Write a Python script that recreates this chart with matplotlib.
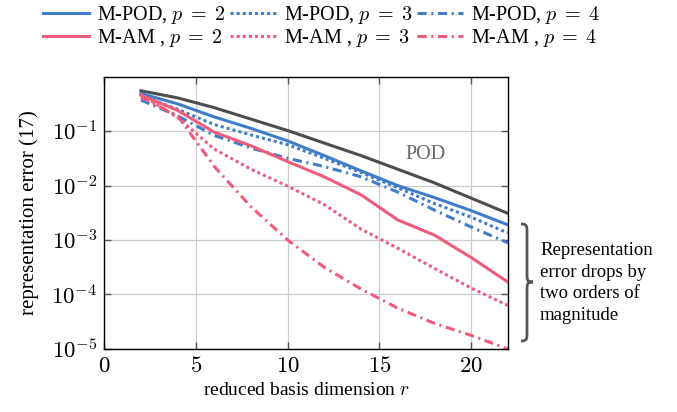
import matplotlib
matplotlib.use("Agg")
import matplotlib.pyplot as plt
from matplotlib.path import Path
from matplotlib.patches import PathPatch

plt.rcParams['font.family'] = ['Liberation Serif', 'DejaVu Serif']
plt.rcParams['mathtext.fontset'] = 'cm'

# reduced basis dimension
r = [2, 4, 6, 8, 10, 12, 14, 16, 18, 20, 22]

# log10 of representation error
pod      = [-0.26, -0.39, -0.57, -0.78, -0.99, -1.22, -1.45, -1.70, -1.95, -2.23, -2.51]
mpod_p2  = [-0.31, -0.50, -0.74, -0.95, -1.18, -1.45, -1.73, -2.00, -2.22, -2.46, -2.72]
mpod_p3  = [-0.35, -0.60, -0.88, -1.07, -1.25, -1.50, -1.76, -2.04, -2.33, -2.58, -2.87]
mpod_p4  = [-0.43, -0.72, -1.08, -1.31, -1.50, -1.65, -1.84, -2.12, -2.45, -2.76, -3.05]
mam_p2   = [-0.34, -0.62, -1.02, -1.27, -1.56, -1.84, -2.17, -2.63, -2.91, -3.32, -3.77]
mam_p3   = [-0.33, -0.75, -1.33, -1.70, -2.01, -2.35, -2.80, -3.15, -3.52, -3.88, -4.20]
mam_p4   = [-0.38, -0.72, -1.65, -2.39, -3.00, -3.50, -3.90, -4.25, -4.53, -4.75, -5.00]

xticks = [0, 5, 10, 15, 20]
yticks = [-5, -4, -3, -2, -1]

blue = '#3f7dc8'
red = '#ef5b7b'
gray = '#4d4d4d'
dotted = (0, (1, 1))
dashdot = (0, (3, 1.5, 0.7, 1.5))

fig = plt.figure(figsize=(6.77, 4.12), dpi=100)
ax = fig.add_axes([0.154, 0.153, 0.596, 0.661])

def p(v):
    return [10 ** a for a in v]

ax.plot(r, p(pod), color=gray, lw=2.2)
l1, = ax.plot(r, p(mpod_p2), color=blue, lw=2.2, label=r'M-POD, $p\;=\;2$')
l2, = ax.plot(r, p(mpod_p3), color=blue, lw=2.2, ls=dotted, label=r'M-POD, $p\;=\;3$')
l3, = ax.plot(r, p(mpod_p4), color=blue, lw=2.2, ls=dashdot, label=r'M-POD, $p\;=\;4$')
l4, = ax.plot(r, p(mam_p2), color=red, lw=2.2, label=r'M-AM , $p\;=\;2$')
l5, = ax.plot(r, p(mam_p3), color=red, lw=2.2, ls=dotted, label=r'M-AM , $p\;=\;3$')
l6, = ax.plot(r, p(mam_p4), color=red, lw=2.2, ls=dashdot, label=r'M-AM , $p\;=\;4$')

ax.set_yscale('log')
ax.set_xlim(0, 22)
ax.set_ylim(1e-5, 1)
ax.set_xticks(xticks, labels=['$%d$' % t for t in xticks])
ax.set_yticks([10.0 ** t for t in yticks], labels=['$10^{%d}$' % t for t in yticks])
ax.minorticks_off()
ax.tick_params(direction='in', length=5, width=1, color='#555555', labelsize=16.5,
               top=True, right=True, pad=5)
ax.grid(True, color='#cccccc', lw=0.9)
ax.set_axisbelow(True)
for s in ax.spines.values():
    s.set_linewidth(1.0)

ax.set_xlabel(r'reduced basis dimension $r$', fontsize=14, labelpad=4)
ax.set_ylabel('representation error (17)', fontsize=15, labelpad=9)

ax.text(17.5, 10 ** -1.43, 'POD', color='#666666', fontsize=14.5, ha='center', va='center')

fig.legend(handles=[l1, l4, l2, l5, l3, l6], ncol=3, loc='upper left',
           bbox_to_anchor=(0.045, 1.02), frameon=False, fontsize=14.5,
           handlelength=2.3, handletextpad=0.4, columnspacing=0.2, labelspacing=0.05,
           borderaxespad=0.2)

# curly brace on the right, in pixel coords converted to figure fraction
W, H = 677.0, 412.0
x0, x1 = 521.0, 533.0
top, mid, bot = 224.0, 282.0, 341.0
xm = (x0 + x1) / 2
q = 9.0
pts = [(x0, top), (xm, top), (xm, top + 2), (xm, top + q),
       (xm, mid - q),
       (xm, mid - 2), (xm, mid), (x1, mid),
       (xm, mid), (xm, mid + 2), (xm, mid + q),
       (xm, bot - q),
       (xm, bot - 2), (xm, bot), (x0, bot)]
codes = [Path.MOVETO, Path.CURVE4, Path.CURVE4, Path.CURVE4,
         Path.LINETO,
         Path.CURVE4, Path.CURVE4, Path.CURVE4,
         Path.CURVE4, Path.CURVE4, Path.CURVE4,
         Path.LINETO,
         Path.CURVE4, Path.CURVE4, Path.CURVE4]
verts = [(x / W, 1 - y / H) for x, y in pts]
fig.patches.append(PathPatch(Path(verts, codes), transform=fig.transFigure,
                             fill=False, edgecolor='#555555', lw=2.0))

fig.text(540 / W, 1 - 283 / H, 'Representation\nerror drops by\ntwo orders of\nmagnitude',
         fontsize=13.5, ha='left', va='center', linespacing=1.35)

fig.savefig('out.png', dpi=100)
